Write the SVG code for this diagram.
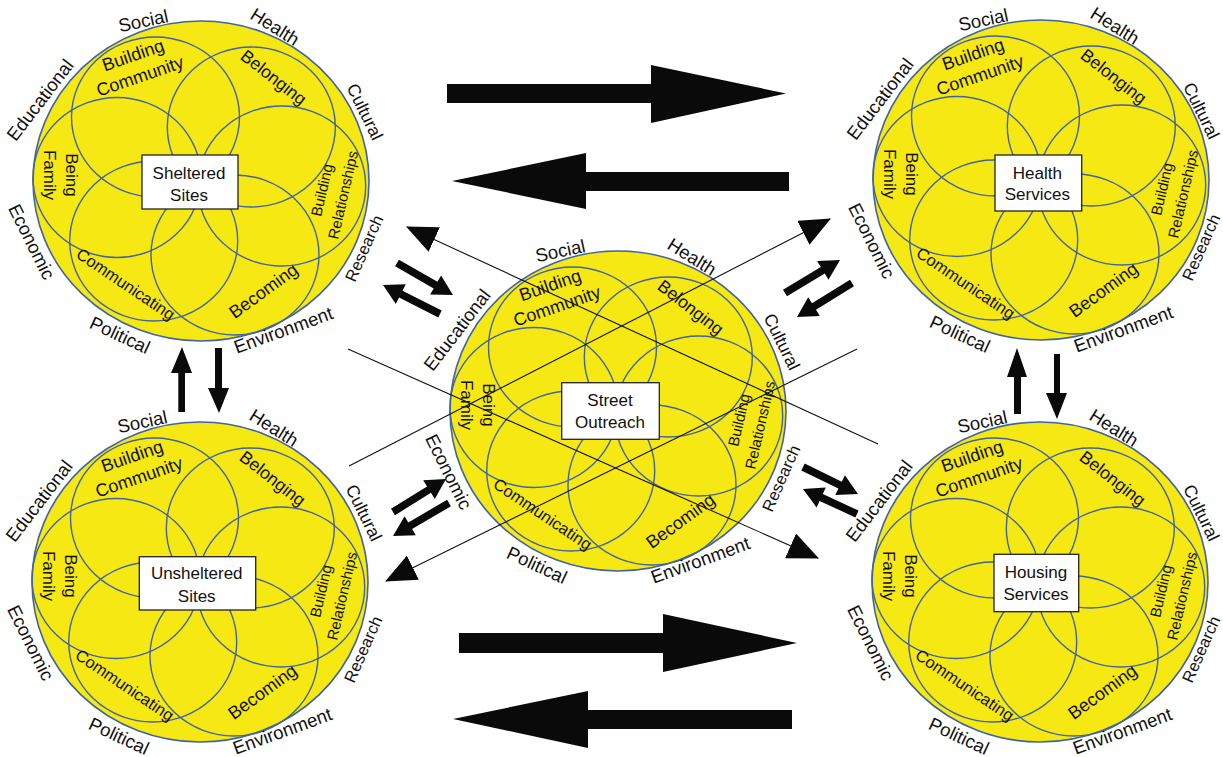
<svg xmlns="http://www.w3.org/2000/svg" xmlns:xlink="http://www.w3.org/1999/xlink" width="1223" height="757" viewBox="0 0 1223 757">
<style>
.o{fill:#f6e812;stroke:#3f63a6;stroke-width:1.6}
.p{fill:none;stroke:#41649f;stroke-width:1.4}
.box{fill:#fff;stroke:#222;stroke-width:1.3}
text{font-family:"Liberation Sans",Arial,sans-serif;fill:#111;text-anchor:middle}
.ol{font-size:18.5px}
.cu{font-size:17.5px}
.rs{font-size:16.5px}
.bc{font-size:18px}
.bl{font-size:17.5px}
.bf{font-size:17px}
.br{font-size:15px}
.cm{font-size:16.5px}
.bx{font-size:17px}
.blk{fill:#0a0a0a}
.ln{stroke:#111;stroke-width:1.1;fill:none;marker-end:url(#tri)}
</style>
<defs>
<g id="flower">
<ellipse class="o" rx="168" ry="160"/>
<ellipse class="p" cx="-45.5" cy="-64" rx="84" ry="80"/>
<ellipse class="p" cx="50.3" cy="-54" rx="84" ry="80"/>
<ellipse class="p" cx="-84" cy="-3.5" rx="84" ry="80"/>
<ellipse class="p" cx="80.7" cy="5" rx="84" ry="80"/>
<ellipse class="p" cx="-47.3" cy="60" rx="84" ry="80"/>
<ellipse class="p" cx="34" cy="74" rx="84" ry="80"/>
</g>
<marker id="tri" viewBox="0 0 31 27" refX="30" refY="13.5" markerWidth="31" markerHeight="27" markerUnits="userSpaceOnUse" orient="auto"><path d="M0,0L31,13.5L0,27z" fill="#0a0a0a"/></marker>
</defs>

<g id="sheltered" transform="translate(201,181)">
<use xlink:href="#flower" href="#flower"/>
<text class="ol" transform="translate(-57.7,-160.3) rotate(-12)" dy="0.35em">Social</text>
<text class="ol" transform="translate(74,-154.3) rotate(32)" dy="0.35em">Health</text>
<text class="cu" transform="translate(164,-69.3) rotate(64)" dy="0.35em">Cultural</text>
<text class="rs" transform="translate(163,67.3) rotate(-66)" dy="0.35em">Research</text>
<text class="ol" transform="translate(82.3,149) rotate(-20)" dy="0.35em">Environment</text>
<text class="ol" transform="translate(-81,154) rotate(25)" dy="0.35em">Political</text>
<text class="ol" transform="translate(-169.3,60.7) rotate(63.4)" dy="0.35em">Economic</text>
<text class="ol" transform="translate(-161,-81) rotate(-52.5)" dy="0.35em">Educational</text>
<text class="bc" transform="translate(-68,-126) rotate(-19)" dy="0.35em">Building</text>
<text class="bc" transform="translate(-61,-105) rotate(-19)" dy="0.35em">Community</text>
<text class="bl" transform="translate(72.7,-103.7) rotate(38)" dy="0.35em">Belonging</text>
<text class="bf" transform="translate(-129,-6) rotate(90)" dy="0.35em">Being</text>
<text class="bf" transform="translate(-151,-6) rotate(90)" dy="0.35em">Family</text>
<text class="br" transform="translate(121,9) rotate(-77)" dy="0.35em">Building</text>
<text class="br" transform="translate(142,14) rotate(-77)" dy="0.35em">Relationships</text>
<text class="bc" transform="translate(62.3,109.7) rotate(-36)" dy="0.35em">Becoming</text>
<text class="cm" transform="translate(-75.3,103) rotate(34)" dy="0.35em">Communicating</text>
<rect class="box" x="-59" y="-26" width="96" height="54"/>
<text class="bx" x="-12" y="-8.3" dy="0.35em">Sheltered</text>
<text class="bx" x="-12" y="14" dy="0.35em">Sites</text>
</g>

<g id="health" transform="translate(1041,180)">
<use xlink:href="#flower" href="#flower"/>
<text class="ol" transform="translate(-57.7,-160.3) rotate(-12)" dy="0.35em">Social</text>
<text class="ol" transform="translate(74,-154.3) rotate(32)" dy="0.35em">Health</text>
<text class="cu" transform="translate(160.5,-69.3) rotate(64)" dy="0.35em">Cultural</text>
<text class="rs" transform="translate(160,67.3) rotate(-66)" dy="0.35em">Research</text>
<text class="ol" transform="translate(82.3,149) rotate(-20)" dy="0.35em">Environment</text>
<text class="ol" transform="translate(-81,154) rotate(25)" dy="0.35em">Political</text>
<text class="ol" transform="translate(-169.3,60.7) rotate(63.4)" dy="0.35em">Economic</text>
<text class="ol" transform="translate(-161,-81) rotate(-52.5)" dy="0.35em">Educational</text>
<text class="bc" transform="translate(-68,-126) rotate(-19)" dy="0.35em">Building</text>
<text class="bc" transform="translate(-61,-105) rotate(-19)" dy="0.35em">Community</text>
<text class="bl" transform="translate(72.7,-103.7) rotate(38)" dy="0.35em">Belonging</text>
<text class="bf" transform="translate(-129,-6) rotate(90)" dy="0.35em">Being</text>
<text class="bf" transform="translate(-151,-6) rotate(90)" dy="0.35em">Family</text>
<text class="br" transform="translate(121,9) rotate(-77)" dy="0.35em">Building</text>
<text class="br" transform="translate(142,14) rotate(-77)" dy="0.35em">Relationships</text>
<text class="bc" transform="translate(62.3,109.7) rotate(-36)" dy="0.35em">Becoming</text>
<text class="cm" transform="translate(-75.3,103) rotate(34)" dy="0.35em">Communicating</text>
<rect class="box" x="-46" y="-25" width="86.7" height="56"/>
<text class="bx" x="-3.7" y="-7.3" dy="0.35em">Health</text>
<text class="bx" x="-3.7" y="14.3" dy="0.35em">Services</text>
</g>

<g id="street" transform="translate(618,411)">
<use xlink:href="#flower" href="#flower"/>
<text class="ol" transform="translate(-57.7,-160.3) rotate(-12)" dy="0.35em">Social</text>
<text class="ol" transform="translate(74,-154.3) rotate(32)" dy="0.35em">Health</text>
<text class="cu" transform="translate(164,-69.3) rotate(64)" dy="0.35em">Cultural</text>
<text class="rs" transform="translate(163,67.3) rotate(-66)" dy="0.35em">Research</text>
<text class="ol" transform="translate(82.3,149) rotate(-20)" dy="0.35em">Environment</text>
<text class="ol" transform="translate(-81,154) rotate(25)" dy="0.35em">Political</text>
<text class="ol" transform="translate(-169.3,60.7) rotate(63.4)" dy="0.35em">Economic</text>
<text class="ol" transform="translate(-161,-81) rotate(-52.5)" dy="0.35em">Educational</text>
<text class="bc" transform="translate(-68,-126) rotate(-19)" dy="0.35em">Building</text>
<text class="bc" transform="translate(-61,-105) rotate(-19)" dy="0.35em">Community</text>
<text class="bl" transform="translate(72.7,-103.7) rotate(38)" dy="0.35em">Belonging</text>
<text class="bf" transform="translate(-129,-6) rotate(90)" dy="0.35em">Being</text>
<text class="bf" transform="translate(-151,-6) rotate(90)" dy="0.35em">Family</text>
<text class="br" transform="translate(121,9) rotate(-77)" dy="0.35em">Building</text>
<text class="br" transform="translate(142,14) rotate(-77)" dy="0.35em">Relationships</text>
<text class="bc" transform="translate(62.3,109.7) rotate(-36)" dy="0.35em">Becoming</text>
<text class="cm" transform="translate(-75.3,103) rotate(34)" dy="0.35em">Communicating</text>
<rect class="box" x="-56.3" y="-28.3" width="97.6" height="56.6"/>
<text class="bx" x="-8" y="-11" dy="0.35em">Street</text>
<text class="bx" x="-8" y="10.7" dy="0.35em">Outreach</text>
</g>

<g id="unsheltered" transform="translate(200,582)">
<use xlink:href="#flower" href="#flower"/>
<text class="ol" transform="translate(-57.7,-160.3) rotate(-12)" dy="0.35em">Social</text>
<text class="ol" transform="translate(74,-154.3) rotate(32)" dy="0.35em">Health</text>
<text class="cu" transform="translate(164,-69.3) rotate(64)" dy="0.35em">Cultural</text>
<text class="rs" transform="translate(163,67.3) rotate(-66)" dy="0.35em">Research</text>
<text class="ol" transform="translate(82.3,149) rotate(-20)" dy="0.35em">Environment</text>
<text class="ol" transform="translate(-81,154) rotate(25)" dy="0.35em">Political</text>
<text class="ol" transform="translate(-169.3,60.7) rotate(63.4)" dy="0.35em">Economic</text>
<text class="ol" transform="translate(-161,-81) rotate(-52.5)" dy="0.35em">Educational</text>
<text class="bc" transform="translate(-68,-126) rotate(-19)" dy="0.35em">Building</text>
<text class="bc" transform="translate(-61,-105) rotate(-19)" dy="0.35em">Community</text>
<text class="bl" transform="translate(72.7,-103.7) rotate(38)" dy="0.35em">Belonging</text>
<text class="bf" transform="translate(-129,-6) rotate(90)" dy="0.35em">Being</text>
<text class="bf" transform="translate(-151,-6) rotate(90)" dy="0.35em">Family</text>
<text class="br" transform="translate(121,9) rotate(-77)" dy="0.35em">Building</text>
<text class="br" transform="translate(142,14) rotate(-77)" dy="0.35em">Relationships</text>
<text class="bc" transform="translate(62.3,109.7) rotate(-36)" dy="0.35em">Becoming</text>
<text class="cm" transform="translate(-75.3,103) rotate(34)" dy="0.35em">Communicating</text>
<rect class="box" x="-60.7" y="-25.3" width="116.4" height="53.3"/>
<text class="bx" x="-3.3" y="-8.7" dy="0.35em">Unsheltered</text>
<text class="bx" x="-3.3" y="14" dy="0.35em">Sites</text>
</g>

<g id="housing" transform="translate(1040,582)">
<use xlink:href="#flower" href="#flower"/>
<text class="ol" transform="translate(-57.7,-160.3) rotate(-12)" dy="0.35em">Social</text>
<text class="ol" transform="translate(74,-154.3) rotate(32)" dy="0.35em">Health</text>
<text class="cu" transform="translate(161.5,-69.3) rotate(64)" dy="0.35em">Cultural</text>
<text class="rs" transform="translate(161,67.3) rotate(-66)" dy="0.35em">Research</text>
<text class="ol" transform="translate(82.3,149) rotate(-20)" dy="0.35em">Environment</text>
<text class="ol" transform="translate(-81,154) rotate(25)" dy="0.35em">Political</text>
<text class="ol" transform="translate(-169.3,60.7) rotate(63.4)" dy="0.35em">Economic</text>
<text class="ol" transform="translate(-161,-81) rotate(-52.5)" dy="0.35em">Educational</text>
<text class="bc" transform="translate(-68,-126) rotate(-19)" dy="0.35em">Building</text>
<text class="bc" transform="translate(-61,-105) rotate(-19)" dy="0.35em">Community</text>
<text class="bl" transform="translate(72.7,-103.7) rotate(38)" dy="0.35em">Belonging</text>
<text class="bf" transform="translate(-129,-6) rotate(90)" dy="0.35em">Being</text>
<text class="bf" transform="translate(-151,-6) rotate(90)" dy="0.35em">Family</text>
<text class="br" transform="translate(121,9) rotate(-77)" dy="0.35em">Building</text>
<text class="br" transform="translate(142,14) rotate(-77)" dy="0.35em">Relationships</text>
<text class="bc" transform="translate(62.3,109.7) rotate(-36)" dy="0.35em">Becoming</text>
<text class="cm" transform="translate(-75.3,103) rotate(34)" dy="0.35em">Communicating</text>
<rect class="box" x="-46" y="-27.7" width="84.7" height="57.4"/>
<text class="bx" x="-4" y="-10.3" dy="0.35em">Housing</text>
<text class="bx" x="-4" y="12" dy="0.35em">Services</text>
</g>

<g id="connectors">
<polygon class="blk" points="447,84 651,84 651,65 786,93.5 651,123 651,103 447,103"/>
<polygon class="blk" points="452,181 586,153 586,172 789,172 789,191 586,191 586,209"/>
<polygon class="blk" points="459,633 663,633 663,614 797,643 663,672 663,653 459,653"/>
<polygon class="blk" points="453,719 588,691 588,710 792,710 792,729 588,729 588,748"/>
<polygon class="blk" points="178.3,412 178.3,373 171,373 182,347 192,373 185,373 185,412"/>
<polygon class="blk" points="215,348 222,348 222,388 229,388 219,413 208,388 215,388"/>
<polygon class="blk" points="1014,414 1014,377 1007,377 1017,348 1027,377 1021,377 1021,414"/>
<polygon class="blk" points="1054,354 1060,354 1060,393 1067,393 1057,419 1046,393 1054,393"/>
<polygon class="blk" points="395.1,266.3 433.7,288.4 430.1,294.6 453,295 441.1,275.5 437.5,281.8 398.9,259.7"/>
<polygon class="blk" points="441.7,310.6 402.5,290.7 405.8,284.3 383,285 395.8,303.9 399.1,297.5 438.3,317.4"/>
<polygon class="blk" points="787,296.3 824.8,273.6 828.5,279.7 840,260 817.1,260.9 820.8,267 783,289.7"/>
<polygon class="blk" points="850,279.8 812,303.3 808.2,297.2 797,317 819.8,315.9 816,309.7 854,286.2"/>
<polygon class="blk" points="395,515.2 431,492.8 434.8,498.9 446,479 423.2,480.3 427,486.4 391,508.8"/>
<polygon class="blk" points="447.1,499.7 408.3,522.5 404.6,516.3 393,536 415.8,535.3 412.1,529.1 450.9,506.3"/>
<polygon class="blk" points="801.3,470.4 838.4,488.6 835.3,495.1 858,494 844.9,475.3 841.8,481.8 804.7,463.6"/>
<polygon class="blk" points="858.6,510.6 822.8,494 825.8,487.4 803,489 816.6,507.4 819.6,500.9 855.4,517.5"/>
<line class="ln" x1="878" y1="444" x2="407" y2="227"/>
<line class="ln" x1="348" y1="349" x2="818" y2="558"/>
<line class="ln" x1="349" y1="466" x2="830" y2="219"/>
<line class="ln" x1="857" y1="349" x2="386" y2="581"/>
</g>
</svg>
